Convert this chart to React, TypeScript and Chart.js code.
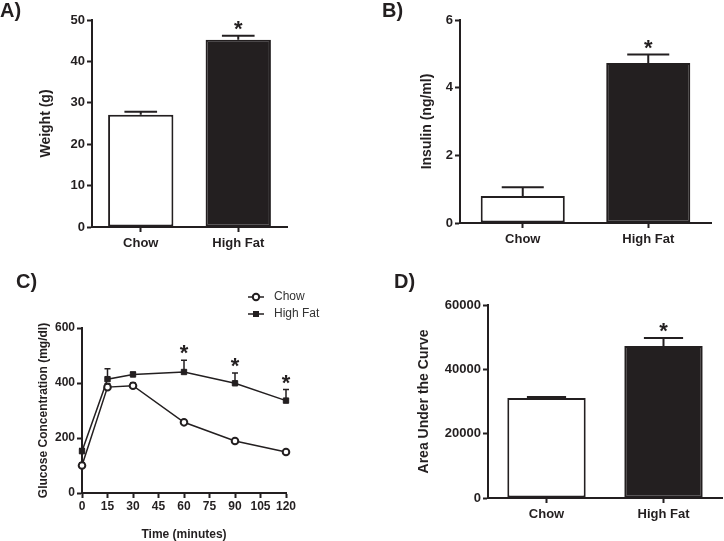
import React, { useEffect, useRef } from "react";
import { Chart, registerables } from "chart.js";

Chart.register(...registerables);

// ---------------- data ----------------
const barCategories = ["Chow", "High Fat"];

const weightValues = [27.1, 45.2];
const weightErrors = [0.75, 1.0];
const weightStars = [false, true];
const weightTicks = { min: 0, max: 50, step: 10 };

const insulinValues = [0.8, 4.73];
const insulinErrors = [0.26, 0.25];
const insulinStars = [false, true];
const insulinTicks = { min: 0, max: 6, step: 2 };

const aucValues = [31050, 47250];
const aucErrors = [380, 2500];
const aucStars = [false, true];
const aucTicks = { min: 0, max: 60000, step: 20000 };

const timePoints = [0, 15, 30, 60, 90, 120];
const chowGlucose = [100, 385, 390, 257, 189, 149];
const chowGlucoseErr = [10, 12, 10, 8, 8, 6];
const chowStars = [false, false, false, false, false, false];
const hfGlucose = [152, 414, 431, 440, 399, 336];
const hfGlucoseErr = [10, 38, 8, 43, 37, 40];
const hfStars = [false, false, false, true, true, true];
const glucoseTicks = { min: 0, max: 600, step: 200 };
const timeTicks = { min: 0, max: 120, step: 15 };

const seriesLabels = ["Chow", "High Fat"];

// ---------------- styling ----------------
const FONT = "'Liberation Sans', Arial, Helvetica, sans-serif";
const INK = "#231f20";

type Box = { left: number; top: number; width: number; height: number };
type Area = { left: number; top: number; right: number; bottom: number };

function layoutPadding(box: Box, area: Area, yW: number, xH: number) {
  return {
    left: area.left - box.left - yW,
    top: area.top - box.top,
    right: box.left + box.width - area.right,
    bottom: box.top + box.height - area.bottom - xH,
  };
}

const errorBarPlugin = {
  id: "errorBarsAndStars",
  beforeDatasetsDraw(chart: any) {
    const ctx = chart.ctx;
    chart.data.datasets.forEach((ds: any, di: number) => {
      const errs: number[] | undefined = ds.errors;
      if (!errs) return;
      const meta = chart.getDatasetMeta(di);
      const yScale = chart.scales[meta.yAxisID];
      meta.data.forEach((el: any, i: number) => {
        const raw = ds.data[i];
        const v = typeof raw === "number" ? raw : raw.y;
        const y0 = yScale.getPixelForValue(v);
        const y1 = yScale.getPixelForValue(v + errs[i]);
        const cap = ds.capWidth ?? (el.width ? el.width * 0.5 : 6);
        ctx.save();
        ctx.strokeStyle = INK;
        ctx.lineWidth = ds.errorLineWidth ?? 2;
        ctx.beginPath();
        ctx.moveTo(el.x, y0);
        ctx.lineTo(el.x, y1);
        ctx.moveTo(el.x - cap / 2, y1);
        ctx.lineTo(el.x + cap / 2, y1);
        ctx.stroke();
        ctx.restore();
      });
    });
  },
  afterDatasetsDraw(chart: any) {
    const ctx = chart.ctx;
    chart.data.datasets.forEach((ds: any, di: number) => {
      const stars: boolean[] | undefined = ds.stars;
      if (!stars) return;
      const meta = chart.getDatasetMeta(di);
      const yScale = chart.scales[meta.yAxisID];
      meta.data.forEach((el: any, i: number) => {
        if (!stars[i]) return;
        const raw = ds.data[i];
        const v = typeof raw === "number" ? raw : raw.y;
        const e = ds.errors ? ds.errors[i] : 0;
        const y1 = yScale.getPixelForValue(v + e);
        ctx.save();
        ctx.fillStyle = INK;
        ctx.font = `bold 22px ${FONT}`;
        ctx.textAlign = "center";
        ctx.textBaseline = "alphabetic";
        ctx.fillText("*", el.x, y1);
        ctx.restore();
      });
    });
  },
};

function letterPlugin(letter: string, x: number, y: number) {
  return {
    id: "panelLetter",
    afterDraw(chart: any) {
      const ctx = chart.ctx;
      ctx.save();
      ctx.fillStyle = INK;
      ctx.font = `bold 20px ${FONT}`;
      ctx.textAlign = "left";
      ctx.textBaseline = "alphabetic";
      ctx.fillText(letter, x, y);
      ctx.restore();
    },
  };
}

const legendPlugin = {
  id: "customLegend",
  afterDraw(chart: any) {
    const ctx = chart.ctx;
    chart.data.datasets.forEach((ds: any, i: number) => {
      const y = 27 + i * 17;
      ctx.save();
      ctx.strokeStyle = INK;
      ctx.lineWidth = 1.5;
      ctx.beginPath();
      ctx.moveTo(248, y);
      ctx.lineTo(264, y);
      ctx.stroke();
      if (ds.pointStyle === "circle") {
        ctx.beginPath();
        ctx.arc(256, y, 3.2, 0, Math.PI * 2);
        ctx.fillStyle = "#fff";
        ctx.fill();
        ctx.lineWidth = 2;
        ctx.stroke();
      } else {
        ctx.fillStyle = INK;
        ctx.fillRect(253, y - 3, 6, 6);
      }
      ctx.fillStyle = "#333";
      ctx.font = `12px ${FONT}`;
      ctx.textAlign = "left";
      ctx.textBaseline = "middle";
      ctx.fillText(ds.label, 274, y);
      ctx.restore();
    });
  },
};

function axisCommon(tickSize: number) {
  return {
    border: { display: true, color: INK, width: 2 },
    grid: {
      display: true,
      drawOnChartArea: false,
      drawTicks: true,
      tickLength: 5,
      tickWidth: 2,
      tickColor: INK,
      color: INK,
      offset: false,
    },
    ticks: {
      color: INK,
      font: { family: FONT, size: tickSize, weight: "bold" as const },
    },
  };
}

type BarSpec = {
  box: Box;
  area: Area;
  yW: number;
  xH: number;
  values: number[];
  errors: number[];
  stars: boolean[];
  range: { min: number; max: number; step: number };
  yTitle: string;
  titleSize: number;
  tickSize: number;
  catSize: number;
  letter: string;
  letterX: number;
  letterY: number;
};

function barConfig(s: BarSpec) {
  const base = axisCommon(s.tickSize);
  const xBase = axisCommon(s.catSize);
  return {
    type: "bar",
    data: {
      labels: barCategories,
      datasets: [
        {
          data: s.values,
          errors: s.errors,
          stars: s.stars,
          backgroundColor: ["#ffffff", INK],
          borderColor: INK,
          borderWidth: 2,
          borderSkipped: false,
          barPercentage: 0.67,
          categoryPercentage: 1,
          errorLineWidth: 2,
        },
      ],
    },
    options: {
      responsive: false,
      animation: false,
      devicePixelRatio: 1,
      layout: { padding: layoutPadding(s.box, s.area, s.yW, s.xH) },
      plugins: { legend: { display: false }, tooltip: { enabled: false } },
      scales: {
        x: {
          ...xBase,
          type: "category",
          offset: true,
          ticks: { ...xBase.ticks, padding: 4, maxRotation: 0 },
          afterFit: (sc: any) => {
            sc.height = s.xH;
          },
        },
        y: {
          ...base,
          type: "linear",
          min: s.range.min,
          max: s.range.max,
          ticks: {
            ...base.ticks,
            stepSize: s.range.step,
            padding: 2,
            callback: (v: any) => String(v),
          },
          title: {
            display: true,
            text: s.yTitle,
            color: INK,
            padding: 0,
            font: { family: FONT, size: s.titleSize, weight: "bold" as const },
          },
          afterFit: (sc: any) => {
            sc.width = s.yW;
          },
        },
      },
    },
    plugins: [errorBarPlugin, letterPlugin(s.letter, s.letterX, s.letterY)],
  };
}

const boxA: Box = { left: 0, top: 0, width: 362, height: 270 };
const boxB: Box = { left: 362, top: 0, width: 362, height: 270 };
const boxC: Box = { left: 0, top: 270, width: 362, height: 271 };
const boxD: Box = { left: 362, top: 270, width: 362, height: 271 };

function configA() {
  return barConfig({
    box: boxA,
    area: { left: 92, top: 20, right: 287, bottom: 227 },
    yW: 54,
    xH: 30,
    values: weightValues,
    errors: weightErrors,
    stars: weightStars,
    range: weightTicks,
    yTitle: "Weight (g)",
    titleSize: 14,
    tickSize: 13,
    catSize: 13,
    letter: "A)",
    letterX: 0,
    letterY: 17,
  });
}

function configB() {
  return barConfig({
    box: boxB,
    area: { left: 460, top: 20, right: 711, bottom: 223 },
    yW: 41,
    xH: 30,
    values: insulinValues,
    errors: insulinErrors,
    stars: insulinStars,
    range: insulinTicks,
    yTitle: "Insulin (ng/ml)",
    titleSize: 14,
    tickSize: 13,
    catSize: 13,
    letter: "B)",
    letterX: 20,
    letterY: 17,
  });
}

function configD() {
  return barConfig({
    box: boxD,
    area: { left: 488, top: 305, right: 722, bottom: 498 },
    yW: 72,
    xH: 30,
    values: aucValues,
    errors: aucErrors,
    stars: aucStars,
    range: aucTicks,
    yTitle: "Area Under the Curve",
    titleSize: 14,
    tickSize: 13,
    catSize: 13,
    letter: "D)",
    letterX: 32,
    letterY: 18,
  });
}

function configC() {
  const area: Area = { left: 82, top: 328, right: 286, bottom: 493 };
  const yW = 46;
  const xH = 48;
  const base = axisCommon(12);
  return {
    type: "line",
    data: {
      datasets: [
        {
          label: seriesLabels[0],
          data: timePoints.map((t, i) => ({ x: t, y: chowGlucose[i] })),
          errors: chowGlucoseErr,
          stars: chowStars,
          capWidth: 6,
          errorLineWidth: 1.5,
          borderColor: INK,
          borderWidth: 1.5,
          pointStyle: "circle",
          pointRadius: 3.3,
          pointBorderWidth: 2,
          pointBackgroundColor: "#ffffff",
          pointBorderColor: INK,
          clip: false,
          tension: 0,
        },
        {
          label: seriesLabels[1],
          data: timePoints.map((t, i) => ({ x: t, y: hfGlucose[i] })),
          errors: hfGlucoseErr,
          stars: hfStars,
          capWidth: 6,
          errorLineWidth: 1.5,
          borderColor: INK,
          borderWidth: 1.5,
          pointStyle: "rect",
          pointRadius: 3.8,
          pointBorderWidth: 1,
          pointBackgroundColor: INK,
          pointBorderColor: INK,
          clip: false,
          tension: 0,
        },
      ],
    },
    options: {
      responsive: false,
      animation: false,
      devicePixelRatio: 1,
      layout: { padding: layoutPadding(boxC, area, yW, xH) },
      plugins: { legend: { display: false }, tooltip: { enabled: false } },
      scales: {
        x: {
          ...base,
          type: "linear",
          min: timeTicks.min,
          max: timeTicks.max,
          ticks: { ...base.ticks, stepSize: timeTicks.step, padding: 1, maxRotation: 0 },
          title: {
            display: true,
            text: "Time (minutes)",
            color: INK,
            padding: 0,
            font: { family: FONT, size: 12, weight: "bold" as const, lineHeight: 1 },
          },
          afterFit: (sc: any) => {
            sc.height = xH;
          },
        },
        y: {
          ...base,
          type: "linear",
          min: glucoseTicks.min,
          max: glucoseTicks.max,
          ticks: { ...base.ticks, stepSize: glucoseTicks.step, padding: 2 },
          title: {
            display: true,
            text: "Glucose Concentration (mg/dl)",
            color: INK,
            padding: 0,
            font: { family: FONT, size: 12, weight: "bold" as const },
          },
          afterFit: (sc: any) => {
            sc.width = yW;
          },
        },
      },
    },
    plugins: [errorBarPlugin, legendPlugin, letterPlugin("C)", 16, 18)],
  };
}

function ChartCanvas({ box, make }: { box: Box; make: () => any }) {
  const ref = useRef<HTMLCanvasElement>(null);
  useEffect(() => {
    const chart = new Chart(ref.current as HTMLCanvasElement, make());
    return () => chart.destroy();
  }, []);
  return (
    <canvas
      ref={ref}
      width={box.width}
      height={box.height}
      style={{
        position: "absolute",
        left: box.left,
        top: box.top,
        width: box.width,
        height: box.height,
        display: "block",
      }}
    />
  );
}

export default function App() {
  return (
    <div
      style={{
        position: "absolute",
        left: 0,
        top: 0,
        width: 724,
        height: 541,
        background: "#ffffff",
        overflow: "hidden",
      }}
    >
      <ChartCanvas box={boxA} make={configA} />
      <ChartCanvas box={boxB} make={configB} />
      <ChartCanvas box={boxC} make={configC} />
      <ChartCanvas box={boxD} make={configD} />
    </div>
  );
}
